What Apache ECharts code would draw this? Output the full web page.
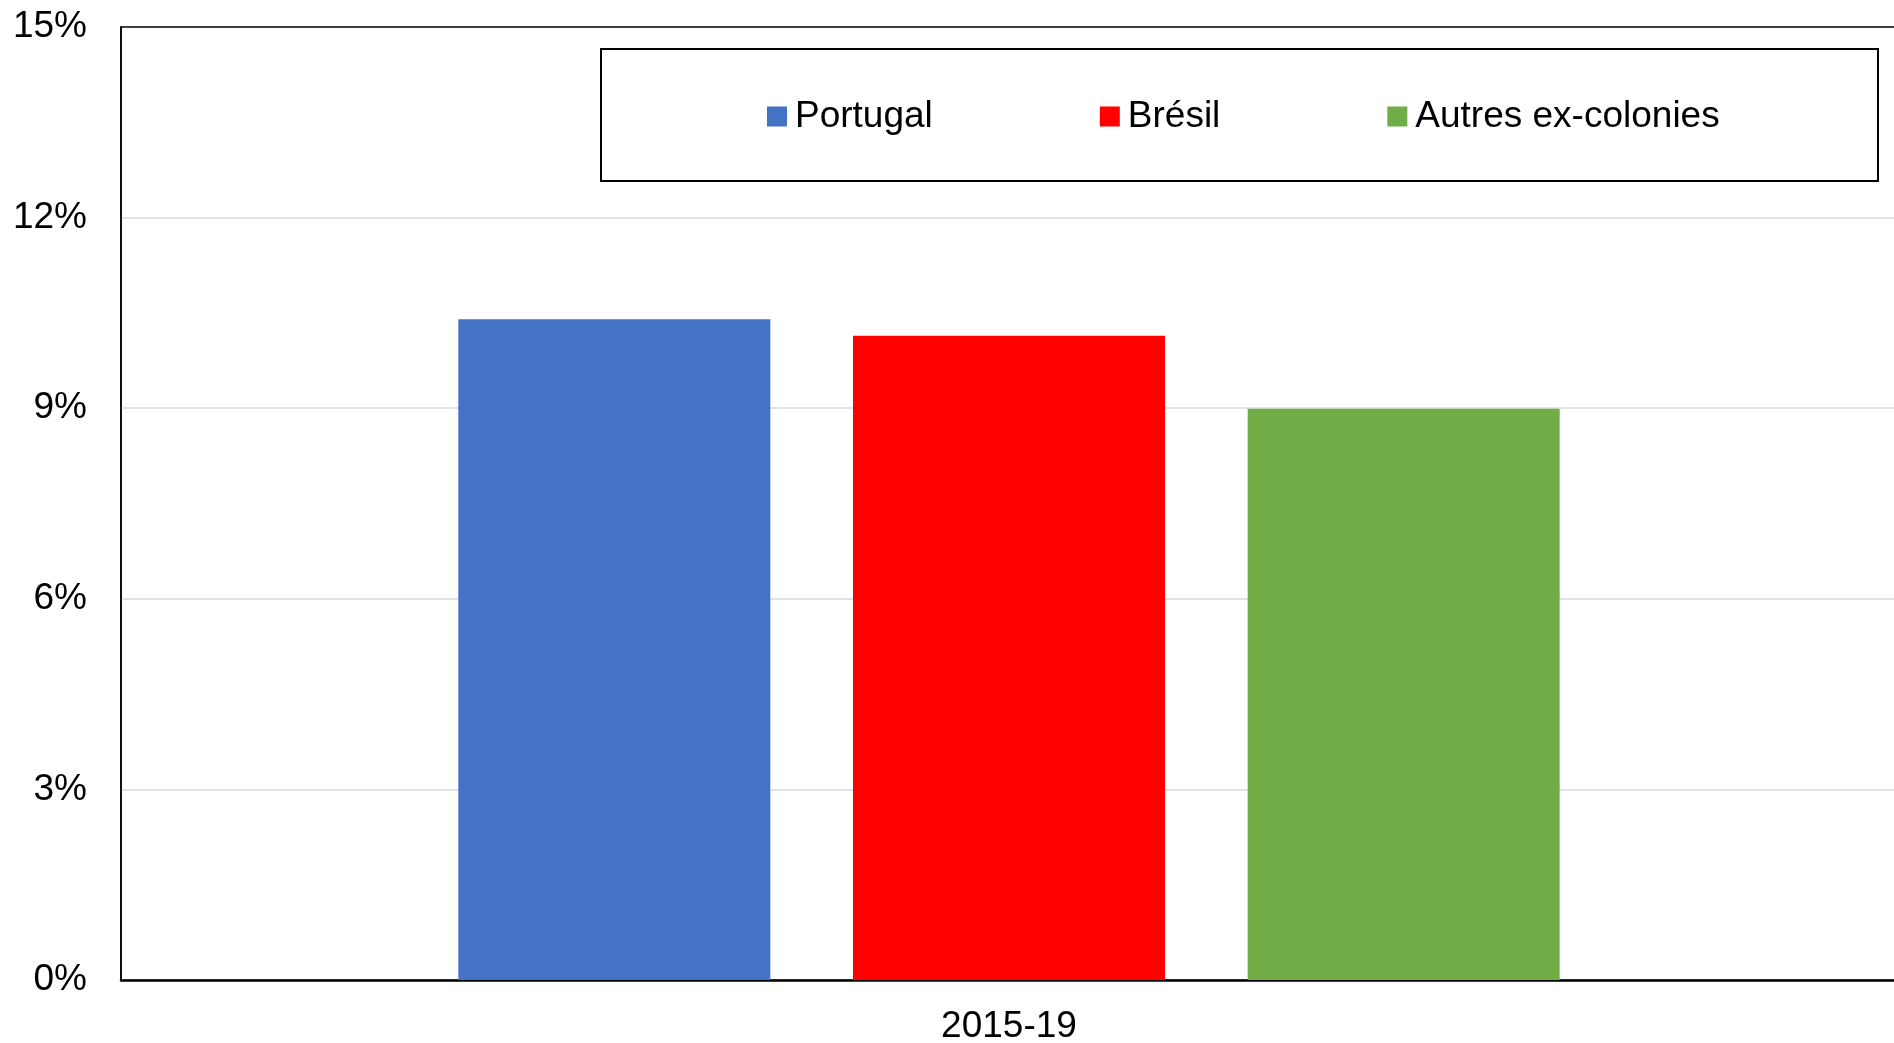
<!DOCTYPE html>
<html>
<head>
<meta charset="utf-8">
<style>
  html, body { margin: 0; padding: 0; background: #fff; }
  #chart { width: 1894px; height: 1043px; }
</style>
<script src="https://cdn.jsdelivr.net/npm/echarts@6/dist/echarts.min.js"></script>
</head>
<body>
<div id="chart"></div>
<script>
// Period on the category axis
const categories = ['2015-19'];

// Share values (%) for each group
const seriesNames = ['Portugal', 'Brésil', 'Autres ex-colonies'];
const portugalValues = [10.4];
const bresilValues = [10.14];
const autresValues = [8.99];
const seriesColors = ['#4472C4', '#FF0000', '#70AD47'];

// Y axis range and step
const yMin = 0;
const yMax = 15;
const yStep = 3;

const FONT = '"Liberation Sans", Arial, sans-serif';

const chart = echarts.init(document.getElementById('chart'), null, { renderer: 'canvas' });

const valueLists = [portugalValues, bresilValues, autresValues];

chart.setOption({
  animation: false,
  backgroundColor: '#ffffff',
  textStyle: { fontFamily: FONT },
  grid: {
    left: 121,
    top: 27,
    right: -3,
    bottom: 63,
    show: true,
    borderColor: '#000000',
    borderWidth: 1.5,
    containLabel: false,
    outerBoundsMode: 'none'
  },
  graphic: [{
    type: 'rect',
    left: 600,
    top: 48,
    shape: { width: 1277, height: 132 },
    style: { fill: 'rgba(0,0,0,0)', stroke: '#000000', lineWidth: 2 },
    z: 5
  }],
  legend: {
    left: 767,
    top: 98,
    padding: 0,
    itemWidth: 20,
    itemHeight: 20,
    itemGap: 167,
    icon: 'rect',
    textStyle: { fontFamily: FONT, fontSize: 37, color: '#000000', padding: [0, 0, 0, 3] },
    data: seriesNames
  },
  xAxis: {
    type: 'category',
    data: categories,
    axisLine: { show: true, lineStyle: { color: '#000000', width: 2.5 } },
    axisTick: { show: false },
    axisLabel: { fontFamily: FONT, fontSize: 37, color: '#000000', margin: 28 },
    splitLine: { show: false }
  },
  yAxis: {
    type: 'value',
    min: yMin,
    max: yMax,
    interval: yStep,
    axisLine: { show: true, lineStyle: { color: '#000000', width: 1.5 } },
    axisTick: { show: false },
    axisLabel: {
      fontFamily: FONT, fontSize: 37, color: '#000000', margin: 34,
      padding: [5, 0, 0, 0],
      formatter: '{value}%'
    },
    splitLine: { show: true, showMaxLine: false, lineStyle: { color: '#d9d9d9', width: 1.5 } }
  },
  series: seriesNames.map((name, i) => ({
    name: name,
    type: 'bar',
    data: valueLists[i],
    barWidth: 312,
    barGap: '26.5%',
    itemStyle: { color: seriesColors[i] }
  }))
});
</script>
</body>
</html>
